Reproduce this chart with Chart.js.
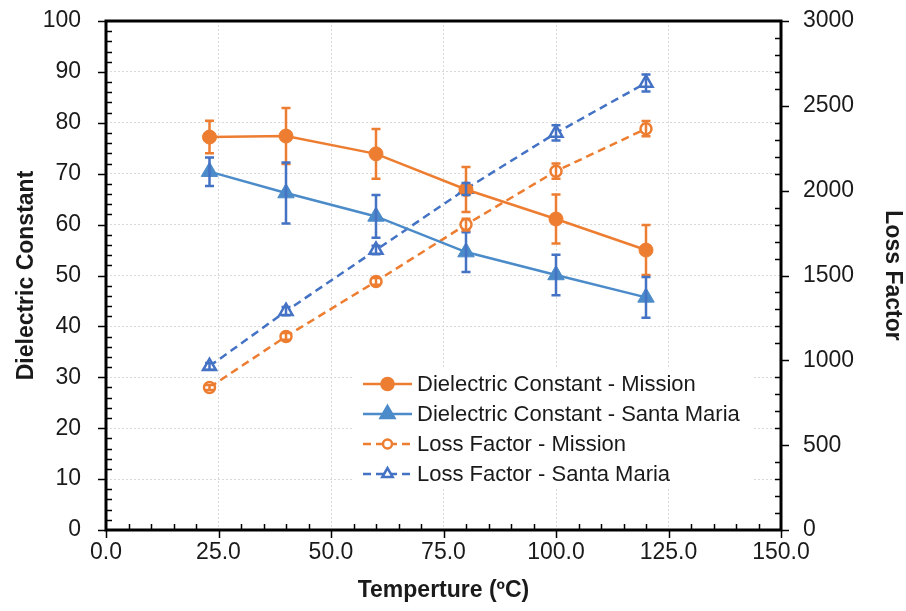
<!DOCTYPE html>
<html>
<head>
<meta charset="utf-8">
<title>Dielectric Constant and Loss Factor vs Temperature</title>
<script src="https://cdn.jsdelivr.net/npm/chart.js@4.4.1/dist/chart.umd.min.js"></script>
<style>
    html, body { margin: 0; padding: 0; background: #ffffff; }
    #chart { display: block; }
</style>
</head>
<body>
<canvas id="chart" width="906" height="611"></canvas>
<script>
// --- Data ---
const temps = [23, 40, 60, 80, 100, 120];

const dcMission = [77.2, 77.4, 73.9, 66.9, 61.1, 55.0];
const dcMissionErr = [3.2, 5.5, 4.9, 4.4, 4.8, 4.9];

const dcSantaMaria = [70.4, 66.2, 61.6, 54.6, 50.1, 45.7];
const dcSantaMariaErr = [2.8, 6.0, 4.2, 3.9, 4.0, 4.0];

const lfMission = [840, 1141, 1465, 1800, 2115, 2365];
const lfMissionErr = [15, 20, 20, 35, 45, 45];

const lfSantaMaria = [965, 1290, 1650, 2010, 2340, 2635];
const lfSantaMariaErr = [20, 25, 25, 35, 45, 50];

const xTicks = [0, 25, 50, 75, 100, 125, 150];
const leftTicks = [0, 10, 20, 30, 40, 50, 60, 70, 80, 90, 100];
const rightTicks = [0, 500, 1000, 1500, 2000, 2500, 3000];

// --- Styling ---
const FONT = '"Liberation Sans", Arial, sans-serif';
const ORANGE = '#ED7D31';
const STEEL = '#4C8BC9';
const ROYAL = '#4472C4';
const TEXT = '#1a1a1a';

const toPoints = (ys) => temps.map((t, i) => ({ x: t, y: ys[i] }));

const datasets = [
    {
        label: 'Dielectric Constant - Mission',
        data: toPoints(dcMission),
        errors: dcMissionErr,
        errColor: ORANGE,
        yAxisID: 'y',
        borderColor: ORANGE,
        backgroundColor: ORANGE,
        borderWidth: 2.5,
        pointStyle: 'circle',
        pointRadius: 7,
        pointBorderWidth: 1,
        pointBackgroundColor: ORANGE,
        pointBorderColor: ORANGE
    },
    {
        label: 'Dielectric Constant - Santa Maria',
        data: toPoints(dcSantaMaria),
        errors: dcSantaMariaErr,
        errColor: ROYAL,
        yAxisID: 'y',
        borderColor: STEEL,
        backgroundColor: STEEL,
        borderWidth: 2.5,
        pointStyle: 'triangle',
        pointRadius: 9.5,
        pointBorderWidth: 1,
        pointBackgroundColor: STEEL,
        pointBorderColor: STEEL
    },
    {
        label: 'Loss Factor - Mission',
        data: toPoints(lfMission),
        errors: lfMissionErr,
        errColor: ORANGE,
        yAxisID: 'y1',
        borderColor: ORANGE,
        backgroundColor: '#ffffff',
        borderWidth: 2.5,
        borderDash: [8, 5],
        pointStyle: 'circle',
        pointRadius: 5.5,
        pointBorderWidth: 2.5,
        pointBackgroundColor: '#ffffff',
        pointBorderColor: ORANGE
    },
    {
        label: 'Loss Factor - Santa Maria',
        data: toPoints(lfSantaMaria),
        errors: lfSantaMariaErr,
        errColor: ROYAL,
        yAxisID: 'y1',
        borderColor: ROYAL,
        backgroundColor: '#ffffff',
        borderWidth: 2.5,
        borderDash: [8, 5],
        pointStyle: 'triangle',
        pointRadius: 7.5,
        pointBorderWidth: 2.5,
        pointBackgroundColor: '#ffffff',
        pointBorderColor: ROYAL
    }
];

// Error bars, drawn over the markers like the Excel original
const errorBars = {
    id: 'errorBars',
    afterDatasetsDraw(chart) {
        const ctx = chart.ctx;
        const xs = chart.scales.x;
        ctx.save();
        chart.data.datasets.forEach(ds => {
            const ys = chart.scales[ds.yAxisID];
            ctx.strokeStyle = ds.errColor;
            ctx.lineWidth = 2.5;
            ctx.setLineDash([]);
            ds.data.forEach((p, i) => {
                const px = xs.getPixelForValue(p.x);
                const top = ys.getPixelForValue(p.y + ds.errors[i]);
                const bot = ys.getPixelForValue(p.y - ds.errors[i]);
                ctx.beginPath();
                ctx.moveTo(px, top); ctx.lineTo(px, bot);
                ctx.moveTo(px - 4.5, top); ctx.lineTo(px + 4.5, top);
                ctx.moveTo(px - 4.5, bot); ctx.lineTo(px + 4.5, bot);
                ctx.stroke();
            });
        });
        ctx.restore();
    }
};

// Box frame with outward major ticks and inward minor ticks
const frame = {
    id: 'frame',
    afterDraw(chart) {
        const ctx = chart.ctx;
        const { left, right, top, bottom } = chart.chartArea;
        const xs = chart.scales.x, yl = chart.scales.y, yr = chart.scales.y1;
        ctx.save();
        ctx.strokeStyle = '#000';
        ctx.lineWidth = 1.5;
        ctx.beginPath();
        for (let v = 0; v <= 150; v += 5) {
            const px = Math.round(xs.getPixelForValue(v)) + 0.5;
            if (v % 25 === 0) { ctx.moveTo(px, bottom); ctx.lineTo(px, bottom + 8); }
            else { ctx.moveTo(px, bottom); ctx.lineTo(px, bottom - 6); }
        }
        for (let v = 0; v <= 100; v += 2) {
            const py = Math.round(yl.getPixelForValue(v)) + 0.5;
            if (v % 10 === 0) { ctx.moveTo(left - 8, py); ctx.lineTo(left, py); }
            else { ctx.moveTo(left, py); ctx.lineTo(left + 6, py); }
        }
        for (let v = 0; v <= 3000; v += 100) {
            const py = Math.round(yr.getPixelForValue(v)) + 0.5;
            if (v % 500 === 0) { ctx.moveTo(right, py); ctx.lineTo(right + 8, py); }
            else { ctx.moveTo(right, py); ctx.lineTo(right - 6, py); }
        }
        ctx.stroke();
        ctx.lineWidth = 3;
        ctx.strokeRect(left, top, right - left, bottom - top);
        ctx.restore();
    }
};

// Legend box inside the plot, as in the original
const insideLegend = {
    id: 'insideLegend',
    afterDraw(chart) {
        const ctx = chart.ctx;
        const bx = 352, by = 367, bw = 400, bh = 122;
        ctx.save();
        ctx.fillStyle = '#ffffff';
        ctx.fillRect(bx, by, bw, bh);
        ctx.font = '22px ' + FONT;
        ctx.textBaseline = 'middle';
        chart.data.datasets.forEach((ds, i) => {
            const ry = 384 + i * 30;
            ctx.strokeStyle = ds.borderColor;
            ctx.lineWidth = 2.5;
            ctx.setLineDash(ds.borderDash || []);
            ctx.beginPath();
            ctx.moveTo(363, ry); ctx.lineTo(412, ry);
            ctx.stroke();
            ctx.setLineDash([]);
            ctx.fillStyle = ds.pointBackgroundColor;
            ctx.strokeStyle = ds.pointBorderColor;
            const open = ds.pointBackgroundColor === '#ffffff';
            Chart.helpers.drawPoint(ctx, {
                pointStyle: ds.pointStyle,
                radius: open ? (ds.pointStyle === 'triangle' ? 6 : 4.5) : (ds.pointStyle === 'triangle' ? 8 : 6),
                rotation: 0,
                borderWidth: open ? 2 : 1
            }, 387.5, ry);
            ctx.fillStyle = TEXT;
            ctx.fillText(ds.label, 417, ry + 1);
        });
        ctx.restore();
    }
};

const gridStyle = { color: '#d9d9d9', lineWidth: 1, drawTicks: false };

// fixed scale boxes so the plot area lands where the reference has it
const fixVertical = (w) => (s) => { s.width = w; s.paddingTop = 0; s.paddingBottom = 0; };

new Chart(document.getElementById('chart').getContext('2d'), {
    type: 'line',
    data: { datasets },
    options: {
        responsive: false,
        animation: false,
        layout: { padding: { top: 21, left: 0, right: 0, bottom: 0 } },
        plugins: {
            legend: { display: false },
            tooltip: { enabled: false }
        },
        elements: { line: { tension: 0 } },
        scales: {
            x: {
                type: 'linear',
                min: 0,
                max: 150,
                afterBuildTicks: s => { s.ticks = xTicks.map(v => ({ value: v })); },
                afterFit: s => { s.height = 81; s.paddingLeft = 0; s.paddingRight = 0; },
                ticks: {
                    callback: v => Number(v).toFixed(1),
                    font: { family: FONT, size: 23 },
                    color: TEXT,
                    padding: 9,
                    maxRotation: 0
                },
                grid: gridStyle,
                border: { display: false, dash: [2, 2] },
                title: {
                    display: true,
                    text: 'Temperture (ºC)',
                    font: { family: FONT, size: 23, weight: 'bold' },
                    color: TEXT,
                    padding: { top: 0, bottom: 7 }
                }
            },
            y: {
                type: 'linear',
                position: 'left',
                min: 0,
                max: 100,
                afterBuildTicks: s => { s.ticks = leftTicks.map(v => ({ value: v })); },
                afterFit: fixVertical(106),
                ticks: {
                    font: { family: FONT, size: 23 },
                    color: TEXT,
                    padding: 25
                },
                grid: gridStyle,
                border: { display: false, dash: [2, 2] },
                title: {
                    display: true,
                    text: 'Dielectric Constant',
                    font: { family: FONT, size: 23, weight: 'bold' },
                    color: TEXT,
                    padding: { top: 13, bottom: 0 }
                }
            },
            y1: {
                type: 'linear',
                position: 'right',
                min: 0,
                max: 3000,
                afterBuildTicks: s => { s.ticks = rightTicks.map(v => ({ value: v })); },
                afterFit: fixVertical(125),
                ticks: {
                    callback: v => String(v),
                    font: { family: FONT, size: 23 },
                    color: TEXT,
                    padding: 22
                },
                grid: { display: false, drawTicks: false },
                border: { display: false },
                title: {
                    display: true,
                    text: 'Loss Factor',
                    font: { family: FONT, size: 23, weight: 'bold' },
                    color: TEXT,
                    padding: { top: 0, bottom: 0 }
                }
            }
        }
    },
    plugins: [errorBars, frame, insideLegend]
});
</script>
</body>
</html>
